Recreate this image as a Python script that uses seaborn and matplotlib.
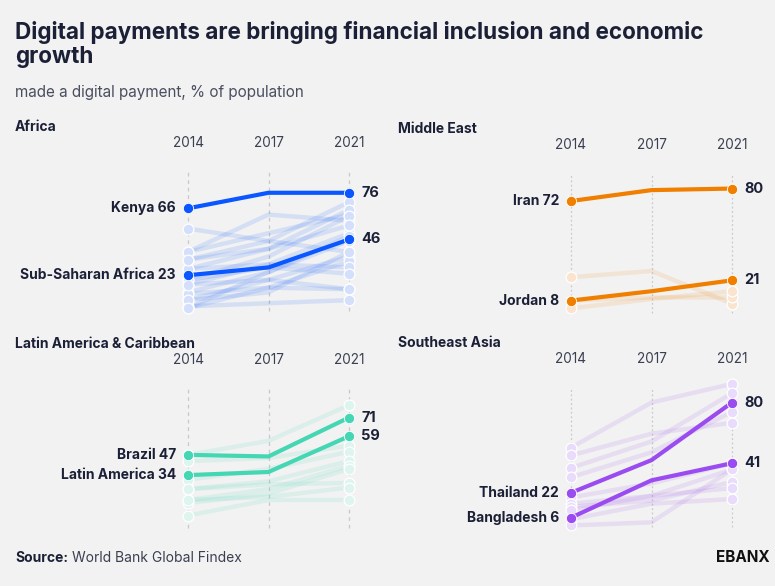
import matplotlib
matplotlib.use("Agg")
import matplotlib.pyplot as plt
import pandas as pd
import seaborn as sns

# ---- data ----
YEARS = ["2014", "2017", "2021"]

AFRICA_NAMES = ["Kenya", "Sub-Saharan Africa"]
AFRICA_MAIN = [[66, 76, 76], [23, 28, 46]]
AFRICA_OTHERS = [
    [53, 45, 38], [38, 50, 62], [33, 45, 70], [27, 40, 65], [38, 62, 58],
    [20, 35, 61], [17, 30, 50], [12, 25, 48], [7, 20, 35], [2, 15, 32],
    [11, 15, 14], [3, 5, 7], [27, 30, 28], [20, 28, 24], [7, 12, 38],
    [2, 25, 45], [17, 20, 14], [33, 40, 55],
]

MIDEAST_NAMES = ["Iran", "Jordan"]
MIDEAST_MAIN = [[72, 79, 80], [8, 14, 21]]
MIDEAST_OTHERS = [[23, 27, 6], [8, 10, 10], [3, 9, 14]]

LATAM_NAMES = ["Brazil", "Latin America"]
LATAM_MAIN = [[47, 46, 71], [34, 36, 59]]
LATAM_OTHERS = [
    [47, 56, 79], [43, 45, 53], [31, 38, 49], [25, 30, 43], [18, 25, 40],
    [16, 22, 38], [25, 28, 29], [18, 20, 26], [8, 18, 18],
]

SEASIA_NAMES = ["Thailand", "Bangladesh"]
SEASIA_MAIN = [[22, 43, 80], [6, 30, 41]]
SEASIA_OTHERS = [
    [51, 80, 92], [46, 60, 67], [38, 55, 86], [32, 48, 74], [19, 28, 41],
    [15, 20, 37], [13, 17, 29], [11, 20, 25], [5, 15, 18], [1, 3, 37],
]

BG = "#f2f2f2"
INK = "#1b2036"
W, H = 775, 586

sns.set_theme(style="white")
plt.rcParams["font.family"] = ["Inter", "DejaVu Sans"]
plt.rcParams["figure.facecolor"] = BG
plt.rcParams["axes.facecolor"] = BG


def to_long(names, rows):
    recs = []
    for name, vals in zip(names, rows):
        for i, v in enumerate(vals):
            recs.append({"country": name, "pos": i, "year": YEARS[i], "value": v})
    return pd.DataFrame(recs)


def draw_panel(fig, px, py, title, names, main, others, color, light, guide_ls):
    # px: pixel x of 2014 column, py: pixel y of value 0
    ax = fig.add_axes([px / W, 1 - py / H, 161 / W, 140 / H])
    ax.set_xlim(0, 2)
    ax.set_ylim(0, 90)
    ax.axis("off")

    for i in range(3):
        ax.axvline(i, 0, 1, color="#c9c9c9", lw=0.9, ls=guide_ls, zorder=0)
        ax.annotate(YEARS[i], xy=(i, 90), xytext=(0, 28), textcoords="offset pixels",
                    ha="center", va="center", fontsize=9.8, color="#3a3f52")

    other_names = [f"o{k}" for k in range(len(others))]
    bg = to_long(other_names, others)
    fg = to_long(names, main)

    sns.lineplot(data=bg, x="pos", y="value", units="country", estimator=None,
                 color=color, alpha=0.12, lw=3.2, ax=ax, legend=False)
    ends_bg = bg[bg["pos"] != 1]
    sns.scatterplot(data=ends_bg, x="pos", y="value", color=light, s=60,
                    edgecolor="white", linewidth=0.9, ax=ax, legend=False, zorder=3)
    sns.lineplot(data=fg, x="pos", y="value", units="country", estimator=None,
                 color=color, lw=3.0, ax=ax, legend=False, zorder=4)
    ends_fg = fg[fg["pos"] != 1]
    sns.scatterplot(data=ends_fg, x="pos", y="value", color=color, s=55,
                    edgecolor="white", linewidth=0.6, ax=ax, legend=False, zorder=5)

    for name, vals in zip(names, main):
        ax.annotate(f"{name} {vals[0]}", xy=(0, vals[0]), xytext=(-12, 0),
                    textcoords="offset pixels", ha="right", va="center",
                    fontsize=10, fontweight="bold", color=INK)
        ax.annotate(f"{vals[-1]}", xy=(2, vals[-1]), xytext=(12, 0),
                    textcoords="offset pixels", ha="left", va="center",
                    fontsize=10.5, fontweight="bold", color=INK)

    for art in ax.lines + ax.collections:
        art.set_clip_on(False)
    ax.set_xlabel("")
    ax.set_ylabel("")

    fig.text((px - 173) / W, 1 - (py - 184) / H, title,
             fontsize=10, fontweight="bold", color=INK, ha="left", va="center")
    return ax


fig = plt.figure(figsize=(W / 100, H / 100), dpi=100)

fig.text(15 / W, 1 - 32 / H, "Digital payments are bringing financial inclusion and economic",
         fontsize=16.2, fontweight="bold", color=INK, ha="left", va="center")
fig.text(15 / W, 1 - 57 / H, "growth",
         fontsize=16.2, fontweight="bold", color=INK, ha="left", va="center")
fig.text(15 / W, 1 - 93 / H, "made a digital payment, % of population",
         fontsize=11, color="#4a4f60", ha="left", va="center")

draw_panel(fig, 188, 311, "Africa", AFRICA_NAMES, AFRICA_MAIN, AFRICA_OTHERS,
           "#0a56ff", "#d4dffb", (0, (3, 3)))
draw_panel(fig, 571, 313, "Middle East", MIDEAST_NAMES, MIDEAST_MAIN, MIDEAST_OTHERS,
           "#f07f00", "#fbe4cf", (0, (1.5, 2)))
draw_panel(fig, 188, 528, "Latin America & Caribbean", LATAM_NAMES, LATAM_MAIN, LATAM_OTHERS,
           "#45d6b3", "#ddf5ee", (0, (3, 3)))
draw_panel(fig, 571, 527, "Southeast Asia", SEASIA_NAMES, SEASIA_MAIN, SEASIA_OTHERS,
           "#9a4cf0", "#e8dbfb", (0, (1.5, 2)))

src = fig.text(15 / W, 1 - 558 / H, "Source:", fontsize=10, fontweight="bold",
               color=INK, ha="left", va="center")
fig.canvas.draw()
bb = src.get_window_extent()
fig.text((bb.x1 + 4) / W, 1 - 558 / H, "World Bank Global Findex", fontsize=10,
         color="#3a3f52", ha="left", va="center")
fig.text(770 / W, 1 - 557 / H, "EBANX", fontsize=11, fontweight="bold",
         color="#111111", ha="right", va="center")

fig.savefig("out.png", dpi=100, facecolor=BG)
